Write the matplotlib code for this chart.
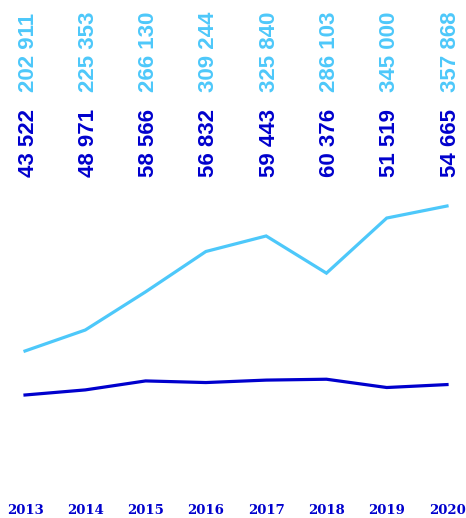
import matplotlib
matplotlib.use('Agg')
import matplotlib.pyplot as plt
import matplotlib.transforms as mtransforms

# data
years = [2013, 2014, 2015, 2016, 2017, 2018, 2019, 2020]
light_values = [202911, 225353, 266130, 309244, 325840, 286103, 345000, 357868]
dark_values = [43522, 48971, 58566, 56832, 59443, 60376, 51519, 54665]

light_color = '#4DC8FA'
dark_color = '#0000CD'

def fmt(v):
    return f"{v:,}".replace(",", " ")

fig = plt.figure(figsize=(4.66, 5.18), dpi=100)
ax = fig.add_axes([0, 0, 1, 1])
ax2 = ax.twinx()

for a in (ax, ax2):
    a.set_axis_off()
    a.set_xlim(2012.585, 2020.315)

# both lines share the same scale, just a different baseline
ax.set_ylim(24443, 578014)
ax2.set_ylim(-87924, 465647)

ax.plot(years, light_values, color=light_color, lw=2.3, solid_joinstyle='miter')
ax2.plot(years, dark_values, color=dark_color, lw=2.3, solid_joinstyle='miter')

trans = mtransforms.blended_transform_factory(ax.transData, fig.transFigure)
for yr, lv, dv in zip(years, light_values, dark_values):
    ax.text(yr + 0.05, 0.822, fmt(lv), transform=trans, rotation=90,
            ha='center', va='bottom', color=light_color, fontsize=16,
            fontweight='bold', family='Liberation Sans')
    ax.text(yr + 0.05, 0.658, fmt(dv), transform=trans, rotation=90,
            ha='center', va='bottom', color=dark_color, fontsize=16,
            fontweight='bold', family='Liberation Sans')
    ax.text(yr, 0.002, str(yr), transform=trans, ha='center', va='bottom',
            color=dark_color, fontsize=9.5, fontweight='bold', family='DejaVu Serif')

fig.savefig('out.png', dpi=100)
